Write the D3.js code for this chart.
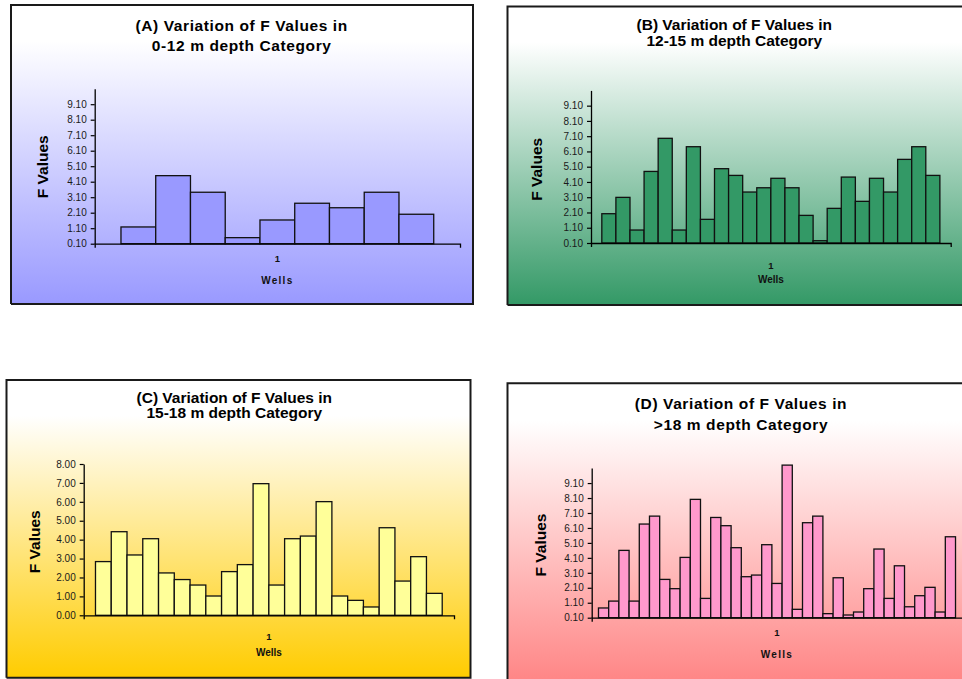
<!DOCTYPE html>
<html>
<head>
<meta charset="utf-8">
<script src="https://cdn.jsdelivr.net/npm/d3@7"></script>
<style>
  html, body { margin: 0; padding: 0; background: #ffffff; }
  svg { display: block; font-family: "Liberation Sans", Arial, sans-serif; }
</style>
</head>
<body>
<svg id="chart" width="962" height="679"></svg>
<script>
// ---------------- data ----------------
const categories = ["1"];
const titlesA = ["(A) Variation of F Values in", "0-12 m depth Category"];
const titlesB = ["(B) Variation of F Values in", "12-15 m depth Category"];
const titlesC = ["(C) Variation of F Values in", "15-18 m depth Category"];
const titlesD = ["(D) Variation of F Values in", ">18 m depth Category"];

const valuesA = [1.18, 4.49, 3.42, 0.49, 1.63, 2.71, 2.42, 3.42, 2.0];
const valuesB = [2.02, 3.09, 0.95, 4.79, 6.96, 0.95, 6.41, 1.65, 4.97, 4.53, 3.44, 3.72,
                 4.34, 3.72, 1.91, 0.25, 2.37, 4.42, 2.83, 4.34, 3.44, 5.58, 6.41, 4.53];
const valuesC = [2.84, 4.42, 3.19, 4.05, 2.24, 1.89, 1.60, 1.02, 2.31, 2.68, 6.96,
                 1.60, 4.05, 4.19, 6.01, 1.02, 0.79, 0.44, 4.63, 1.81, 3.10, 1.16];
const valuesD = [0.75, 1.21, 4.60, 1.21, 6.36, 6.89, 2.66, 2.04, 4.13, 8.01, 1.39, 6.80,
                 6.25, 4.78, 2.84, 2.95, 4.98, 2.39, 10.3, 0.66, 6.45, 6.89, 0.37, 2.77,
                 0.28, 0.48, 2.04, 4.69, 1.39, 3.57, 0.83, 1.57, 2.13, 0.48, 5.51];

const ticks010 = [0.1, 1.1, 2.1, 3.1, 4.1, 5.1, 6.1, 7.1, 8.1, 9.1];
const ticks000 = [0, 1, 2, 3, 4, 5, 6, 7, 8];
const domain010 = [0.1, 10.1];
const domain000 = [0, 8];
const yLabel = "F Values";
const xLabel = "Wells";

// ---------------- layout ----------------
const panels = [
  { id: "A", titles: titlesA, values: valuesA, ticks: ticks010, domain: domain010,
    bar: "#9999ff", bg: "#9999ff",
    frame: { x: 11, y: 5, w: 462, h: 299, right: true, bottom: true },
    plot: { left: 94.7, right: 460, base: 243.7, top: 88.7 }, pad: 0.084,
    titleX: 241.7, titleY: [25, 45.7], titleSpacing: 0.6,
    yLab: [42.3, 166.7], catY: 258.7, wellsY: 280, wellsSpacing: 1.3 },
  { id: "B", titles: titlesB, values: valuesB, ticks: ticks010, domain: domain010,
    bar: "#339966", bg: "#339966",
    frame: { x: 507.5, y: 6.5, w: 470, h: 298.5, right: false, bottom: true },
    plot: { left: 591, right: 950.7, base: 243, top: 90.4 }, pad: 0.032,
    titleX: 734.3, titleY: [24, 40], titleSpacing: 0,
    yLab: [536.7, 169.3], catY: 265, wellsY: 279.3, wellsSpacing: 0 },
  { id: "C", titles: titlesC, values: valuesC, ticks: ticks000, domain: domain000,
    bar: "#ffff99", bg: "#ffcc00",
    frame: { x: 6.5, y: 380, w: 464, h: 297.7, right: true, bottom: true },
    plot: { left: 83.7, right: 454, base: 615.3, top: 464 }, pad: 0.034,
    titleX: 234.3, titleY: [397, 412.7], titleSpacing: 0,
    yLab: [34.3, 541.7], catY: 636.7, wellsY: 652.3, wellsSpacing: 0 },
  { id: "D", titles: titlesD, values: valuesD, ticks: ticks010, domain: domain010,
    bar: "#ff99cc", bg: "#ff8080",
    frame: { x: 507.5, y: 383.3, w: 470, h: 310, right: false, bottom: false },
    plot: { left: 591.7, right: 962.3, base: 617.7, top: 468.1 }, pad: 0.019,
    titleX: 741, titleY: [403.3, 424], titleSpacing: 0.6,
    yLab: [540, 545], catY: 632.7, wellsY: 654, wellsSpacing: 1.3 }
];

const svg = d3.select("#chart");
const defs = svg.append("defs");

panels.forEach(p => {
  const g = svg.append("g").attr("class", "panel-" + p.id);
  const f = p.frame;

  // background gradient
  const grad = defs.append("linearGradient")
    .attr("id", "grad" + p.id)
    .attr("x1", 0).attr("y1", 0).attr("x2", 0).attr("y2", 1);
  grad.append("stop").attr("offset", "0").attr("stop-color", "#ffffff");
  grad.append("stop").attr("offset", "0.12").attr("stop-color", "#ffffff");
  grad.append("stop").attr("offset", "1").attr("stop-color", p.bg);

  g.append("rect")
    .attr("x", f.x).attr("y", f.y).attr("width", f.w).attr("height", f.h)
    .attr("fill", `url(#grad${p.id})`);

  // frame border
  const border = d3.path();
  border.moveTo(f.x, f.y + f.h);
  border.lineTo(f.x, f.y);
  border.lineTo(f.x + f.w, f.y);
  if (f.right) { border.lineTo(f.x + f.w, f.y + f.h); }
  if (f.bottom) {
    if (!f.right) border.moveTo(f.x + f.w, f.y + f.h);
    border.lineTo(f.x, f.y + f.h);
  }
  g.append("path").attr("d", border.toString())
    .attr("fill", "none").attr("stroke", "#1a1a1a").attr("stroke-width", 2);

  // scales
  const pl = p.plot;
  const y = d3.scaleLinear().domain(p.domain).range([pl.base, pl.top]);
  const x0 = d3.scaleBand().domain(categories).range([pl.left, pl.right])
    .paddingInner(0).paddingOuter(p.pad);
  const x1 = d3.scaleBand().domain(d3.range(p.values.length))
    .range([x0(categories[0]), x0(categories[0]) + x0.bandwidth()]).padding(0);

  // bars
  g.append("g").selectAll("rect").data(p.values).join("rect")
    .attr("x", (d, i) => x1(i))
    .attr("y", d => y(d))
    .attr("width", x1.bandwidth())
    .attr("height", d => y(p.domain[0]) - y(d))
    .attr("fill", p.bar)
    .attr("stroke", "#111")
    .attr("stroke-width", 1.3);

  // y axis
  const yAxis = d3.axisLeft(y).tickValues(p.ticks).tickFormat(d3.format(".2f"))
    .tickSize(4).tickSizeOuter(0).tickPadding(4);
  const ya = g.append("g").attr("transform", `translate(${pl.left},0)`).call(yAxis);
  ya.select(".domain").attr("stroke", "#000").attr("stroke-width", 1.3);
  ya.selectAll(".tick line").attr("stroke", "#000").attr("stroke-width", 1.2);
  ya.selectAll(".tick text")
    .attr("font-size", 10).attr("fill", "#1a1a1a")
    .attr("font-family", "'Liberation Sans', Arial, sans-serif");

  // x axis
  const xAxis = d3.axisBottom(x0).tickSize(0).tickSizeOuter(4).tickPadding(0);
  const xa = g.append("g").attr("transform", `translate(0,${pl.base})`).call(xAxis);
  xa.select(".domain").attr("stroke", "#000").attr("stroke-width", 1.3);
  xa.selectAll(".tick text")
    .attr("y", 0).attr("dy", 0)
    .attr("transform", `translate(0,${p.catY - pl.base})`)
    .attr("dominant-baseline", "central")
    .attr("font-size", 9.5).attr("font-weight", "bold").attr("fill", "#111")
    .attr("font-family", "'Liberation Sans', Arial, sans-serif");

  // titles
  p.titles.forEach((t, i) => {
    g.append("text")
      .attr("x", p.titleX).attr("y", p.titleY[i])
      .attr("text-anchor", "middle").attr("dominant-baseline", "central")
      .attr("font-size", 15.5).attr("font-weight", "bold")
      .attr("letter-spacing", p.titleSpacing)
      .attr("fill", "#000")
      .text(t);
  });

  // y label
  g.append("text")
    .attr("transform", `translate(${p.yLab[0]},${p.yLab[1]}) rotate(-90)`)
    .attr("text-anchor", "middle").attr("dominant-baseline", "central")
    .attr("font-size", 15.5).attr("font-weight", "bold").attr("fill", "#000")
    .text(yLabel);

  // x label
  g.append("text")
    .attr("x", (pl.left + pl.right) / 2).attr("y", p.wellsY)
    .attr("text-anchor", "middle").attr("dominant-baseline", "central")
    .attr("font-size", 10).attr("font-weight", "bold")
    .attr("letter-spacing", p.wellsSpacing).attr("fill", "#111")
    .text(xLabel);
});
</script>
</body>
</html>
